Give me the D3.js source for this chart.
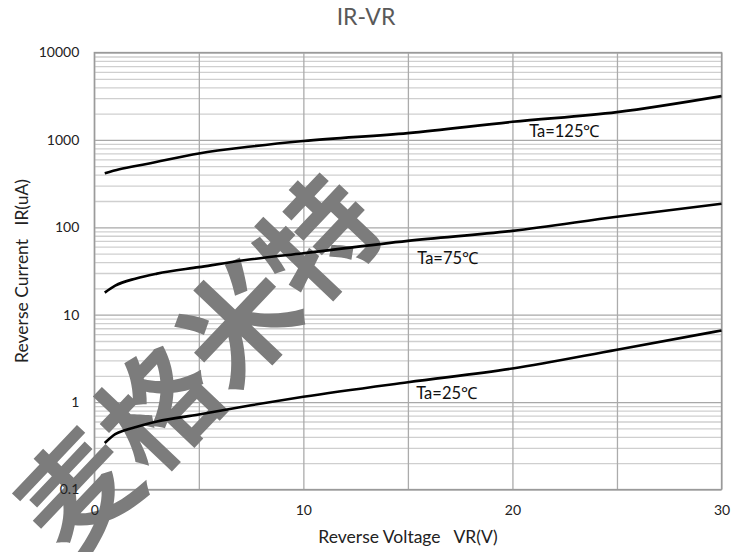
<!DOCTYPE html>
<html><head><meta charset="utf-8">
<script src="https://cdn.jsdelivr.net/npm/d3@7/dist/d3.min.js"></script>
<style>
html,body{margin:0;padding:0;background:#fff;}
svg{display:block;font-family:Lato,"Open Sans",sans-serif;}
</style></head>
<body>
<svg id="chart" width="745" height="552"></svg>
<script>
// ---- data ----
const title = "IR-VR";
const xLabel = "Reverse Voltage   VR(V)";
const yLabel = "Reverse Current   IR(uA)";
const xTicks = [0, 10, 20, 30];
const xGrid = [0, 5, 10, 15, 20, 25, 30];
const yTicks = [0.1, 1, 10, 100, 1000, 10000];
const yTickLabels = ["0.1", "1", "10", "100", "1000", "10000"];

const v125 = [0.5, 1.2, 2.5, 5, 7.5, 10, 15, 20, 25, 30];
const i125 = [416, 462, 530, 700, 840, 972, 1195, 1610, 2080, 3170];
const v75 = [0.5, 1, 2, 3, 5, 7.5, 10, 15, 20, 25, 30];
const i75 = [17.9, 21.5, 26, 29.5, 35, 43, 50.5, 70, 91, 132, 186];
const v25 = [0.5, 1, 1.5, 2, 3, 5, 7.5, 10, 15, 20, 25, 30];
const i25 = [0.34, 0.43, 0.48, 0.52, 0.60, 0.72, 0.92, 1.15, 1.69, 2.42, 3.98, 6.6];
const seriesNames = ["Ta=125℃", "Ta=75℃", "Ta=25℃"];
const labelAt = [[20.8, 1082], [15.45, 38], [15.4, 1.09]];
const watermark = "麦格米特";

// ---- layout ----
const svg = d3.select("#chart");
const L = 94.3, R = 721.5, T = 52.5, B = 489.5;
const x = d3.scaleLinear().domain([0, 30]).range([L, R]);
const y = d3.scaleLog().domain([0.1, 10000]).range([B, T]);

// minor grid lines
const minor = [];
for (let e = -1; e < 4; e++) for (let k = 2; k <= 9; k++) minor.push(k * Math.pow(10, e));

svg.append("g").attr("transform", `translate(${L},0)`)
  .call(d3.axisLeft(y).tickValues(minor).tickSize(-(R - L)).tickFormat(""))
  .call(g => g.select(".domain").remove())
  .call(g => g.selectAll("line").attr("stroke", "#cfcfcf").attr("stroke-width", 1.3));

svg.append("g").attr("transform", `translate(${L},0)`)
  .call(d3.axisLeft(y).tickValues(yTicks).tickSize(-(R - L)).tickFormat(""))
  .call(g => g.select(".domain").remove())
  .call(g => g.selectAll("line").attr("stroke", "#a8a8a8").attr("stroke-width", 1.3));

svg.append("g").attr("transform", `translate(0,${B})`)
  .call(d3.axisBottom(x).tickValues(xGrid).tickSize(-(B - T)).tickFormat(""))
  .call(g => g.select(".domain").remove())
  .call(g => g.selectAll("line").attr("stroke", "#ababab").attr("stroke-width", 1.3));

svg.append("rect").attr("x", L).attr("y", T).attr("width", R - L).attr("height", B - T)
  .attr("fill", "none").attr("stroke", "#9a9a9a").attr("stroke-width", 1.3);

// watermark
svg.append("text").text(watermark)
  .attr("transform", "translate(193,360) rotate(-46.5)")
  .attr("text-anchor", "middle").attr("dominant-baseline", "central")
  .attr("font-family", "'Noto Sans CJK SC', sans-serif")
  .attr("font-size", 116).attr("font-weight", 700)
  .attr("fill", "#7c7c7c");

// axis labels
svg.append("g").attr("transform", `translate(${L},0)`)
  .call(d3.axisLeft(y).tickValues(yTicks).tickSize(0).tickPadding(15)
    .tickFormat((d, i) => yTickLabels[i]))
  .call(g => g.select(".domain").remove())
  .call(g => g.selectAll("text").attr("font-size", 14).attr("fill", "#222")
    .attr("font-family", "Lato, sans-serif"));

svg.append("g").attr("transform", `translate(0,${B})`)
  .call(d3.axisBottom(x).tickValues(xTicks).tickSize(0).tickPadding(16).tickFormat(d3.format("d")))
  .call(g => g.select(".domain").remove())
  .call(g => g.selectAll("text").attr("font-size", 14).attr("fill", "#222")
    .attr("font-family", "Lato, sans-serif"));

// curves
const line = d3.line().x(d => x(d[0])).y(d => y(d[1])).curve(d3.curveMonotoneX);
[[v125, i125], [v75, i75], [v25, i25]].forEach(([vs, is]) => {
  svg.append("path").datum(vs.map((v, i) => [v, is[i]]))
    .attr("d", line).attr("fill", "none").attr("stroke", "#000").attr("stroke-width", 2.6);
});

// series labels
seriesNames.forEach((n, i) => {
  svg.append("text").text(n).attr("x", x(labelAt[i][0])).attr("y", y(labelAt[i][1]))
    .attr("font-size", 16.5).attr("fill", "#111");
});

// titles
svg.append("text").text(title).attr("x", 366).attr("y", 25).attr("text-anchor", "middle")
  .attr("font-size", 23).attr("fill", "#595959");
svg.append("text").text(xLabel).attr("x", 408).attr("y", 543).attr("text-anchor", "middle")
  .attr("font-size", 17.5).attr("fill", "#222").style("white-space", "pre");
svg.append("text").text(yLabel).attr("transform", "translate(28,271) rotate(-90)")
  .attr("text-anchor", "middle").attr("font-size", 17.5).attr("fill", "#222")
  .style("white-space", "pre");
</script>
</body></html>
